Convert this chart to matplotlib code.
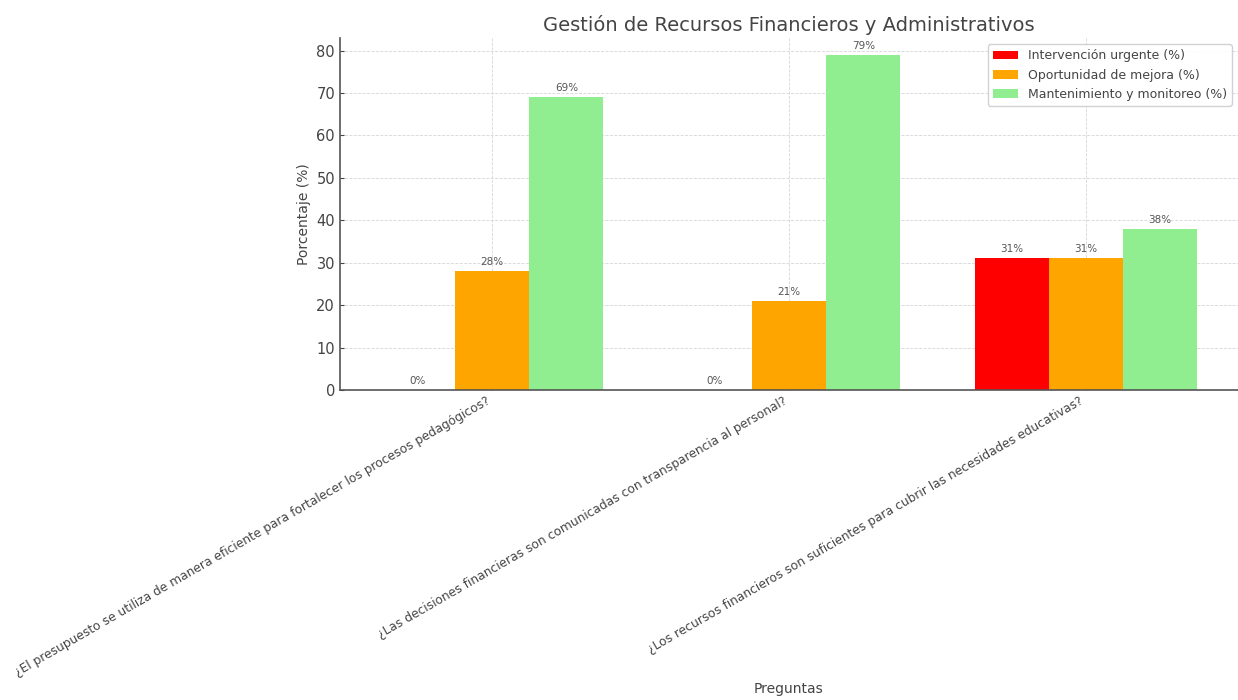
import numpy as np
import matplotlib.pyplot as plt

preguntas = [
    '¿El presupuesto se utiliza de manera eficiente para fortalecer los procesos pedagógicos?',
    '¿Las decisiones financieras son comunicadas con transparencia al personal?',
    '¿Los recursos financieros son suficientes para cubrir las necesidades educativas?',
]
urgente = [0, 0, 31]
mejora = [28, 21, 31]
mantenimiento = [69, 79, 38]

series = [urgente, mejora, mantenimiento]
nombres = ['Intervención urgente (%)', 'Oportunidad de mejora (%)', 'Mantenimiento y monitoreo (%)']
colores = ['red', 'orange', 'lightgreen']

txt = '#444444'
plt.rcParams['text.color'] = txt
plt.rcParams['axes.labelcolor'] = txt
plt.rcParams['xtick.color'] = txt
plt.rcParams['ytick.color'] = txt

fig = plt.figure(figsize=(12.38, 7), dpi=100)
ax = fig.add_axes([0.2746, 0.4429, 0.7254, 0.5028])

x = np.arange(len(preguntas))
width = 0.25
for i, (vals, nombre, color) in enumerate(zip(series, nombres, colores)):
    bars = ax.bar(x + (i - 1) * width, vals, width, label=nombre, color=color)
    for b, v in zip(bars, vals):
        ax.annotate(f'{v}%', (b.get_x() + b.get_width() / 2, v),
                    xytext=(0, 3), textcoords='offset points',
                    ha='center', va='bottom', fontsize=7.5, color='#555555')

ax.set_title('Gestión de Recursos Financieros y Administrativos', fontsize=14, pad=5)
ax.set_ylabel('Porcentaje (%)', fontsize=10)
ax.set_xlabel('Preguntas', fontsize=10, labelpad=2)
ax.set_xticks(x)
ax.set_xticklabels(preguntas, rotation=30, ha='right', fontsize=8.8)
ax.tick_params(axis='y', labelsize=10.5, direction='in', length=3)
ax.tick_params(axis='x', direction='in', length=3)

ax.grid(True, linestyle='--', linewidth=0.6, color='#cccccc', alpha=0.8)
ax.set_axisbelow(True)
for s in ['top', 'right']:
    ax.spines[s].set_visible(False)
for s in ['left', 'bottom']:
    ax.spines[s].set_color('#555555')
    ax.spines[s].set_linewidth(1.2)

ax.legend(loc='upper right', fontsize=9, framealpha=0.9)

fig.savefig('out.png', dpi=100)
